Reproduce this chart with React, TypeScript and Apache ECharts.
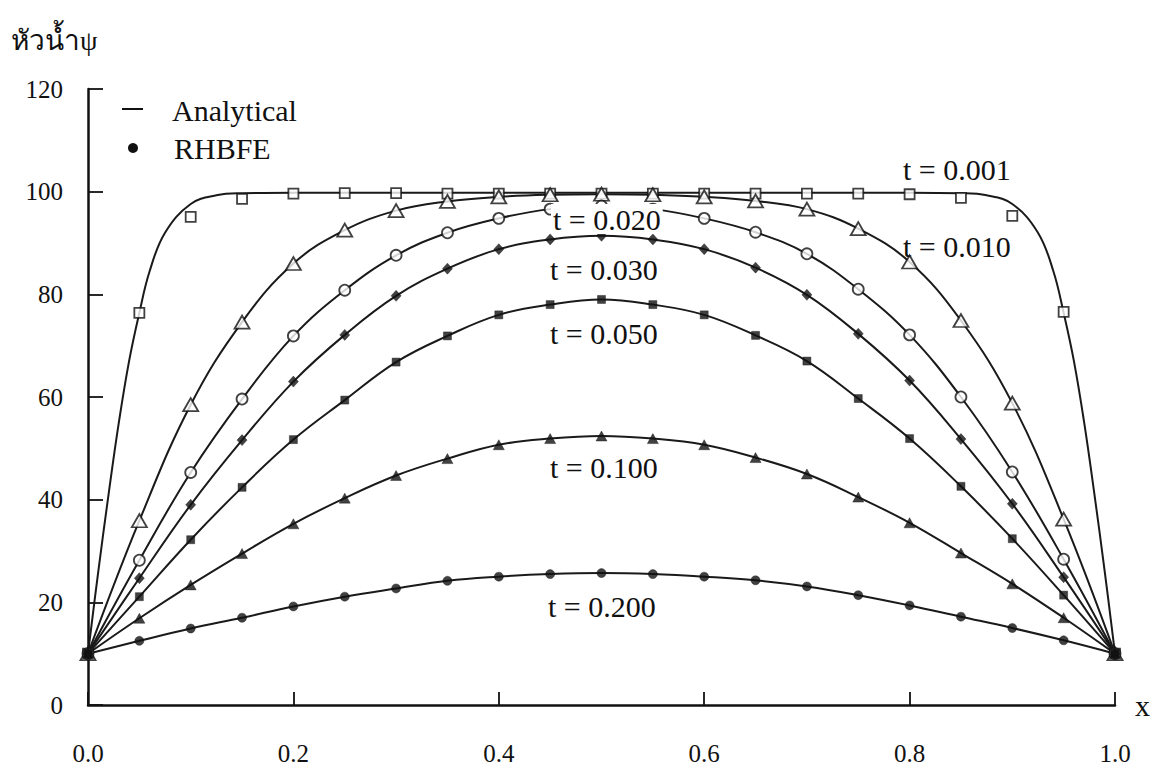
import React, { useEffect, useRef } from "react";
import * as echarts from "echarts";

// Node positions (x) of the RHBFE solution
const xNodes = [0, 0.05, 0.1, 0.15, 0.2, 0.25, 0.3, 0.35, 0.4, 0.45, 0.5, 0.55, 0.6, 0.65, 0.7, 0.75, 0.8, 0.85, 0.9, 0.95, 1.0];

// RHBFE values
const rhbfe001 = [10, 76.4, 95.1, 98.6, 99.6, 99.7, 99.7, 99.6, 99.6, 99.6, 99.6, 99.6, 99.6, 99.6, 99.6, 99.6, 99.5, 98.8, 95.3, 76.6, 10];
const rhbfe010 = [10, 35.9, 58.5, 74.6, 86.0, 92.5, 96.3, 98.1, 99.0, 99.4, 99.5, 99.4, 99.0, 98.2, 96.6, 92.8, 86.3, 74.9, 58.8, 36.2, 10];
const rhbfe020 = [10, 28.2, 45.3, 59.6, 71.9, 80.8, 87.6, 92.0, 94.8, 96.6, 97.2, 96.6, 94.8, 92.1, 87.9, 81.0, 72.1, 60.0, 45.4, 28.4, 10];
const rhbfe030 = [10, 24.7, 39.0, 51.6, 63.0, 72.1, 79.7, 85.0, 88.8, 90.7, 91.4, 90.7, 88.8, 85.2, 79.9, 72.3, 63.2, 51.8, 39.2, 24.9, 10];
const rhbfe050 = [10, 21.1, 32.2, 42.4, 51.7, 59.4, 66.8, 71.9, 76.0, 78.0, 79.0, 78.0, 76.0, 72.0, 67.0, 59.7, 51.9, 42.6, 32.4, 21.4, 10];
const rhbfe100 = [10, 16.9, 23.4, 29.5, 35.3, 40.3, 44.7, 48.0, 50.7, 51.9, 52.4, 51.9, 50.7, 48.2, 45.0, 40.5, 35.5, 29.6, 23.6, 17.0, 10];
const rhbfe200 = [10, 12.5, 14.9, 17.0, 19.2, 21.1, 22.7, 24.2, 25.0, 25.5, 25.7, 25.5, 25.0, 24.3, 23.1, 21.4, 19.4, 17.2, 15.0, 12.6, 10];

// Analytical curve for t = 0.001 (read at finer x positions, steep near the ends)
const analytic001X = [0, 0.01, 0.02, 0.03, 0.04, 0.05, 0.06, 0.075, 0.1, 0.125, 0.15, 0.2, 0.3, 0.4, 0.5, 0.6, 0.7, 0.8, 0.85, 0.875, 0.9, 0.925, 0.94, 0.95, 0.96, 0.97, 0.98, 0.99, 1.0];
const analytic001Y = [10, 26, 41, 55, 67, 76.4, 84.5, 92, 97.6, 99.3, 99.7, 99.8, 99.8, 99.8, 99.8, 99.8, 99.8, 99.8, 99.7, 99.3, 97.6, 92, 84.5, 76.4, 67, 55, 41, 26, 10];

const timeLabels = ["t = 0.001", "t = 0.010", "t = 0.020", "t = 0.030", "t = 0.050", "t = 0.100", "t = 0.200"];
const legendLabels = ["Analytical", "RHBFE"];
const axisTitleY = "หัวน้ำψ";
const axisTitleX = "x";

const FONT = '"Liberation Serif", "Times New Roman", serif';
const INK = "#111";

type Spec = { name: string; vals: number[]; symbol: string; size: number | number[]; filled: boolean };

const specs: Spec[] = [
  { name: timeLabels[0], vals: rhbfe001, symbol: "rect", size: 10, filled: false },
  { name: timeLabels[1], vals: rhbfe010, symbol: "triangle", size: [15, 13], filled: false },
  { name: timeLabels[2], vals: rhbfe020, symbol: "circle", size: 11, filled: false },
  { name: timeLabels[3], vals: rhbfe030, symbol: "diamond", size: [10, 11], filled: true },
  { name: timeLabels[4], vals: rhbfe050, symbol: "rect", size: 8, filled: true },
  { name: timeLabels[5], vals: rhbfe100, symbol: "triangle", size: [11, 10], filled: true },
  { name: timeLabels[6], vals: rhbfe200, symbol: "circle", size: 9, filled: true },
];

// label anchor (left, middle) in pixels
const labelPos: [number, number][] = [
  [903, 169],
  [903, 246],
  [551, 219],
  [550, 269],
  [550, 333],
  [550, 467],
  [548, 606],
];

export default function App() {
  const ref = useRef<HTMLDivElement>(null);

  useEffect(() => {
    if (!ref.current) return;
    const chart = echarts.init(ref.current, undefined, { renderer: "svg" });

    const lineSeries: any[] = specs.map((s, i) => ({
      type: "line",
      name: "Analytical " + s.name,
      data:
        i === 0
          ? analytic001X.map((x, j) => [x, analytic001Y[j]])
          : xNodes.map((x, j) => [x, s.vals[j]]),
      smooth: 0.4,
      showSymbol: false,
      symbol: "none",
      lineStyle: { color: "#1a1a1a", width: 2 },
      z: 2,
    }));

    const scatterSeries: any[] = specs.map((s) => ({
      type: "scatter",
      name: "RHBFE " + s.name,
      data: xNodes.map((x, j) => [x, s.vals[j]]),
      symbol: s.symbol,
      symbolSize: s.size,
      itemStyle: s.filled
        ? { color: INK, borderColor: INK, borderWidth: 0.5 }
        : { color: "#fff", borderColor: INK, borderWidth: 1.8 },
      z: 3,
    }));

    const graphics: any[] = [
      {
        type: "text",
        left: 11,
        top: 26,
        z: 100,
        style: { text: axisTitleY, font: `28px ${FONT}`, fill: INK },
      },
      {
        type: "line",
        z: 100,
        shape: { x1: 122, y1: 109, x2: 143, y2: 109 },
        style: { stroke: INK, lineWidth: 2 },
      },
      {
        type: "text",
        x: 172,
        y: 110,
        z: 100,
        style: { text: legendLabels[0], font: `30px ${FONT}`, fill: INK, verticalAlign: "middle" },
      },
      {
        type: "circle",
        z: 100,
        shape: { cx: 133, cy: 148, r: 5 },
        style: { fill: INK },
      },
      {
        type: "text",
        x: 174,
        y: 148,
        z: 100,
        style: { text: legendLabels[1], font: `30px ${FONT}`, fill: INK, verticalAlign: "middle" },
      },
      ...timeLabels.map((t, i) => ({
        type: "text",
        x: labelPos[i][0],
        y: labelPos[i][1],
        z: 100,
        style: {
          text: t,
          font: `30px ${FONT}`,
          fill: INK,
          verticalAlign: "middle",
          backgroundColor: i === 2 ? "#fff" : undefined,
          padding: i === 2 ? [0, 2, 0, 2] : 0,
        },
      })),
    ];

    chart.setOption({
      animation: false,
      backgroundColor: "#fff",
      grid: { left: 88, right: 48, top: 89, bottom: 68, containLabel: false },
      xAxis: {
        type: "value",
        min: 0,
        max: 1,
        interval: 0.2,
        name: axisTitleX,
        nameLocation: "end",
        nameGap: 20,
        nameTextStyle: { fontFamily: FONT, fontSize: 30, color: INK, verticalAlign: "middle", align: "left" },
        axisLine: { show: true, onZero: false, lineStyle: { color: INK, width: 2.5 } },
        axisTick: { show: true, inside: true, length: 13, lineStyle: { color: INK, width: 1.8 } },
        axisLabel: {
          margin: 36,
          fontFamily: FONT,
          fontSize: 25,
          color: INK,
          formatter: (v: number) => v.toFixed(1),
        },
        splitLine: { show: false },
      },
      yAxis: {
        type: "value",
        min: 0,
        max: 120,
        interval: 20,
        axisLine: { show: true, onZero: false, lineStyle: { color: INK, width: 2.5 } },
        axisTick: { show: true, inside: true, length: 15, lineStyle: { color: INK, width: 1.8 } },
        axisLabel: { margin: 25, fontFamily: FONT, fontSize: 25, color: INK },
        splitLine: { show: false },
      },
      series: [...lineSeries, ...scatterSeries],
      graphic: graphics,
    });

    return () => chart.dispose();
  }, []);

  return (
    <div
      ref={ref}
      style={{ position: "absolute", left: 0, top: 0, width: 1163, height: 773, background: "#fff" }}
    />
  );
}
